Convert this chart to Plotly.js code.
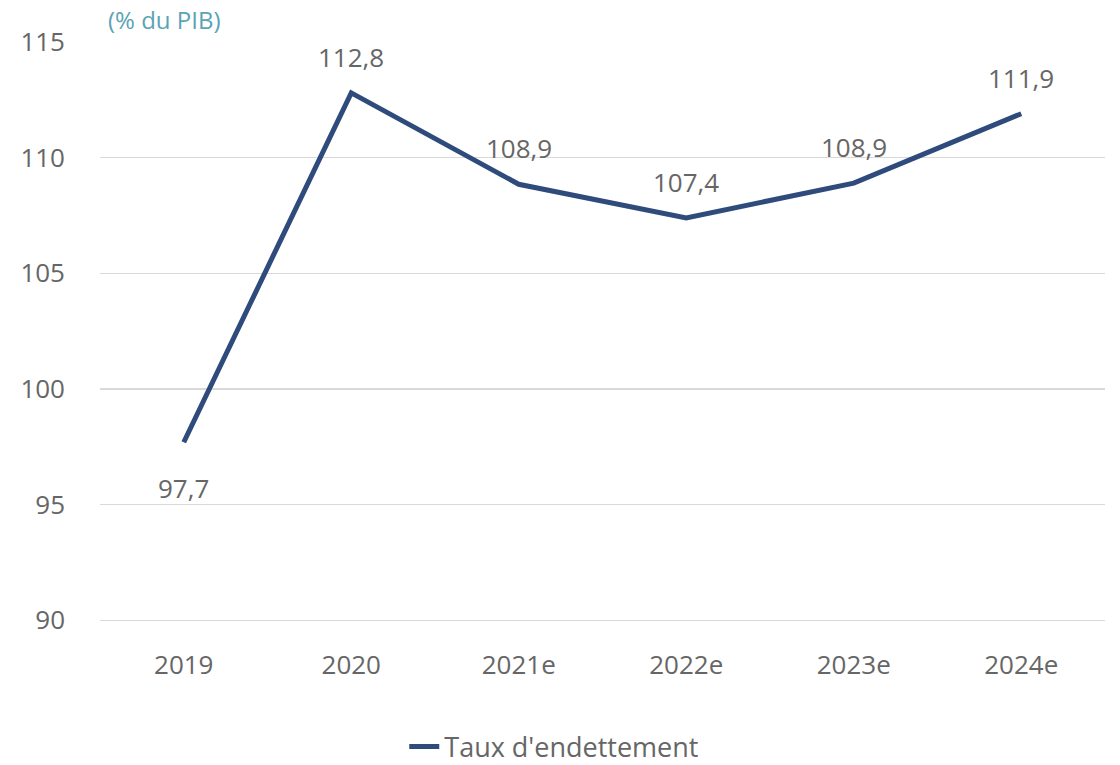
<!DOCTYPE html>
<html><head><meta charset="utf-8">
<script src="https://cdn.plot.ly/plotly-3.0.1.min.js"></script>
<style>body{margin:0;background:#fff}#c{width:1120px;height:765px}</style>
</head><body><div id="c"></div>
<script>
const categories = ['2019','2020','2021e','2022e','2023e','2024e'];
const values = [97.7, 112.8, 108.85, 107.4, 108.9, 111.9];
const labels = ['97,7','112,8','108,9','107,4','108,9','111,9'];
const seriesName = "Taux d'endettement";
const yTicks = [90, 95, 100, 105, 110, 115];

const FONT = '"Open Sans", "Segoe UI", sans-serif';
const GREY = '#666666';

const annotations = categories.map((c, i) => ({
  x: i, y: values[i], xref: 'x', yref: 'y', text: labels[i], showarrow: false,
  yshift: i === 0 ? -46 : 36,
  font: {family: FONT, size: 26, color: GREY}
}));
annotations.push({
  xref: 'paper', yref: 'paper', x: 0.006, y: 1.038, xanchor: 'left', yanchor: 'middle',
  text: '(% du PIB)', showarrow: false,
  font: {family: FONT, size: 24, color: '#5BA3B5'}
});

Plotly.newPlot('c', [{
  type: 'scatter', mode: 'lines', x: categories, y: values, name: seriesName,
  line: {color: '#2E4B7C', width: 5}, showlegend: true, hoverinfo: 'skip'
}], {
  width: 1120, height: 765,
  margin: {l: 100, r: 15, t: 42, b: 140, autoexpand: false},
  paper_bgcolor: '#fff', plot_bgcolor: '#fff',
  font: {family: FONT, color: GREY},
  xaxis: {type: 'category', range: [-0.5, 5.5], showgrid: false, zeroline: false,
    showline: false, ticks: '', ticklabelstandoff: 22, automargin: false,
    tickfont: {family: FONT, size: 26, color: GREY}},
  yaxis: {range: [89.8, 115], tickvals: yTicks, ticktext: yTicks.map(String),
    showgrid: true, gridcolor: '#d9d9d9', gridwidth: 1.5, zeroline: false, showline: false,
    ticks: '', ticklabelstandoff: 34, automargin: false,
    tickfont: {family: FONT, size: 26, color: GREY}},
  showlegend: true,
  legend: {orientation: 'h', x: 0.452, xanchor: 'center', yref: 'container', y: 1 - 747/765, yanchor: 'middle',
    font: {family: FONT, size: 27, color: GREY}},
  annotations: annotations
}, {displayModeBar: false, staticPlot: true});
</script></body></html>
